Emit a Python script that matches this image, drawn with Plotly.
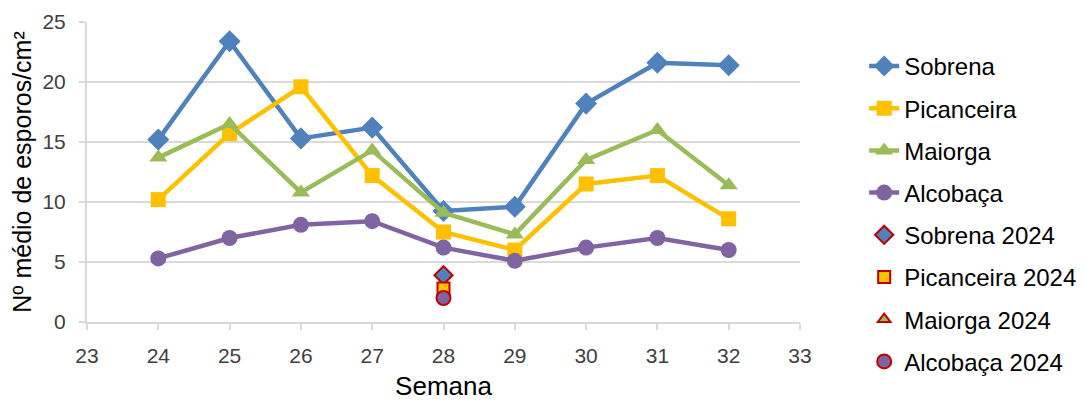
import plotly.graph_objects as go

weeks = [24, 25, 26, 27, 28, 29, 30, 31, 32]
sobrena = [15.2, 23.4, 15.3, 16.2, 9.25, 9.6, 18.2, 21.6, 21.4]
picanceira = [10.2, 15.7, 19.6, 12.2, 7.5, 6.0, 11.5, 12.2, 8.6]
maiorga = [13.7, 16.5, 10.8, 14.3, 9.1, 7.3, 13.5, 16.0, 11.4]
alcobaca = [5.3, 7.0, 8.1, 8.4, 6.2, 5.1, 6.2, 7.0, 6.0]

week_2024 = [28]
sobrena_2024 = [3.9]
picanceira_2024 = [2.8]
maiorga_2024 = [2.0]
alcobaca_2024 = [2.0]

x_ticks = list(range(23, 34))
y_ticks = [0, 5, 10, 15, 20, 25]

fig = go.Figure()

series = [
    ("Sobrena", sobrena, "#4F81BD", "diamond", 17),
    ("Picanceira", picanceira, "#FFC000", "square", 15),
    ("Maiorga", maiorga, "#9BBB59", "triangle-up", 16),
    ("Alcobaça", alcobaca, "#8064A2", "circle", 16),
]
for i, (name, vals, col, sym, sz) in enumerate(series):
    fig.add_trace(go.Scatter(
        x=weeks, y=vals, name=name, mode="lines+markers",
        line=dict(color=col, width=4.5),
        marker=dict(symbol=sym, size=sz, color=col),
        legendgroup=f"g{i}",
    ))

series24 = [
    ("Sobrena 2024", sobrena_2024, "#4F81BD", "diamond", 14),
    ("Picanceira 2024", picanceira_2024, "#FFC000", "square", 12),
    ("Maiorga 2024", maiorga_2024, "#9BBB59", "triangle-up", 11),
    ("Alcobaça 2024", alcobaca_2024, "#8064A2", "circle", 14),
]
for i, (name, vals, col, sym, sz) in enumerate(series24):
    fig.add_trace(go.Scatter(
        x=week_2024, y=vals, name=name, mode="markers",
        marker=dict(symbol=sym, size=sz, color=col,
                    line=dict(color="#C00000", width=2)),
        legendgroup=f"h{i}",
    ))

fig.update_layout(
    width=1078, height=393,
    margin=dict(l=79, r=286, t=14, b=79, autoexpand=False),
    paper_bgcolor="white", plot_bgcolor="white",
    font=dict(family="Liberation Sans, Arial, sans-serif", color="#000000"),
    legend=dict(
        x=1.09, y=0.927, xanchor="left", yanchor="top",
        font=dict(size=24, color="#000000"),
        tracegroupgap=8, bgcolor="rgba(0,0,0,0)",
        maxheight=400,
    ),
    showlegend=True,
)
fig.update_xaxes(
    range=[23, 33], tickvals=x_ticks, ticktext=[str(t) for t in x_ticks],
    showgrid=False, showline=True, linecolor="#D9D9D9", linewidth=2,
    ticks="outside", tickcolor="#D9D9D9", ticklen=6, tickwidth=2,
    tickfont=dict(size=21, color="#404040"), ticklabelstandoff=8,
    title=dict(text="Semana", font=dict(size=26, color="#000000"), standoff=18),
    zeroline=False, automargin=False,
)
fig.update_yaxes(
    range=[0, 25], tickvals=y_ticks,
    showgrid=True, gridcolor="#D9D9D9", gridwidth=2,
    showline=True, linecolor="#D9D9D9", linewidth=2,
    ticks="outside", tickcolor="#D9D9D9", ticklen=6, tickwidth=2,
    tickfont=dict(size=21, color="#404040"), ticklabelstandoff=9,
    title=dict(text="Nº médio de esporos/cm²", font=dict(size=25, color="#000000"), standoff=6),
    zeroline=False, automargin=False,
)

fig.write_html("out.html")
